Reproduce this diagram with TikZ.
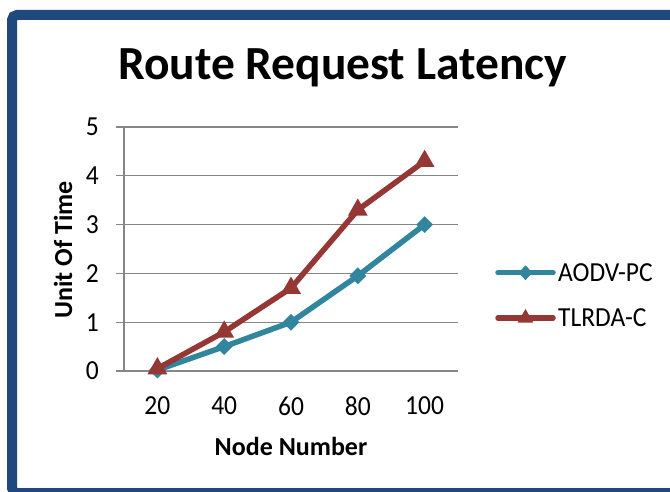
\documentclass[tikz,border=0pt]{standalone}
\usepackage{fontspec}
\setmainfont{Carlito}
\usepackage{xcolor}
\usepackage{tikz}
\usetikzlibrary{shapes.geometric, positioning, calc}

\definecolor{frameblue}{RGB}{31,73,125}
\definecolor{gridgray}{RGB}{134,134,134}
\definecolor{aodvteal}{RGB}{49,133,156}
\definecolor{tlrdared}{RGB}{149,55,53}

\tikzset{
  gridline/.style={gridgray, line width=1.3pt},
  series/.style={line width=5.5pt, line join=round},
  dmark/.style={diamond, fill=aodvteal, inner sep=0pt, minimum width=17pt, minimum height=17pt},
  tmark/.style={regular polygon, regular polygon sides=3, fill=tlrdared, inner sep=0pt, minimum size=23pt},
  ticklabel/.style={inner sep=0pt, font=\fontsize{25.5}{30}\selectfont, yscale=1.08},
  axislabel/.style={inner sep=0pt, font=\fontsize{26}{30}\selectfont\bfseries},
}

\begin{document}
\begin{tikzpicture}[x=1pt, y=1pt]
  \useasboundingbox (0,0) rectangle (670,491);
  \fill[white] (0,0) rectangle (670,491);

  % Chart frame (right and bottom sides fall outside the page)
  \draw[frameblue, line width=10pt, rounded corners=5pt]
    (690,476) -- (12,476) -- (12,-2) -- (690,-2);

  % Title
  \node[font=\fontsize{47.5}{56}\selectfont\bfseries, anchor=base, inner sep=0pt]
    (title) at (342.5,411) {Route Request Latency};

  % Plot area: one category = 66.8pt, one unit = 48.8pt
  \begin{scope}[shift={(124,120)}, x=66.8pt, y=48.8pt]
    % Gridlines and value labels
    \foreach \v in {0,...,5} {
      \draw[gridline] ([xshift=-8pt]0,\v) -- (5,\v);
      \node[ticklabel, anchor=east] (ylab\v) at ([xshift=-25pt]0,\v) {\v};
    }
    \draw[gridline] (0,0) -- (0,5);

    % Category labels
    \foreach \n [count=\i] in {20,40,60,80,100}
      \node[ticklabel, anchor=north] (xlab\i) at ([yshift=-25.5pt]\i-0.5,0) {\n};

    % AODV-PC
    \coordinate (a1) at (0.5,0.02);
    \coordinate (a2) at (1.5,0.5);
    \coordinate (a3) at (2.5,1.0);
    \coordinate (a4) at (3.5,1.95);
    \coordinate (a5) at (4.5,3.0);
    \draw[series, aodvteal] (a1) -- (a2) -- (a3) -- (a4) -- (a5);
    \foreach \i in {1,...,5}
      \node[dmark] (am\i) at (a\i) {};

    % TLRDA-C
    \coordinate (t1) at (0.5,0.05);
    \coordinate (t2) at (1.5,0.8);
    \coordinate (t3) at (2.5,1.7);
    \coordinate (t4) at (3.5,3.3);
    \coordinate (t5) at (4.5,4.3);
    \draw[series, tlrdared] (t1) -- (t2) -- (t3) -- (t4) -- (t5);
    \foreach \i in {1,...,5}
      \node[tmark] (tm\i) at (t\i) {};
  \end{scope}

  % Axis titles
  \node[axislabel, anchor=base] (xtitle) at (291,36) {Node Number};
  \node[axislabel, anchor=base, rotate=90] (ytitle) at (72,241) {Unit Of Time};

  % Legend
  \coordinate (la1) at (498,218.3);
  \coordinate (la2) at (553,218.3);
  \draw[series, aodvteal, line cap=round] (la1) -- (la2);
  \node[dmark, minimum width=14pt, minimum height=15pt] (lam) at ($(la1)!0.5!(la2)$) {};
  \node[ticklabel, right=5pt of la2] (ltext1) {AODV-PC};

  \coordinate (lt1) at (498,173);
  \coordinate (lt2) at (553,173);
  \draw[series, tlrdared, line cap=round] (lt1) -- (lt2);
  \node[tmark, minimum size=18pt] (ltm) at ($(lt1)!0.5!(lt2)$) {};
  \node[ticklabel, right=5pt of lt2] (ltext2) {TLRDA-C};
\end{tikzpicture}
\end{document}
